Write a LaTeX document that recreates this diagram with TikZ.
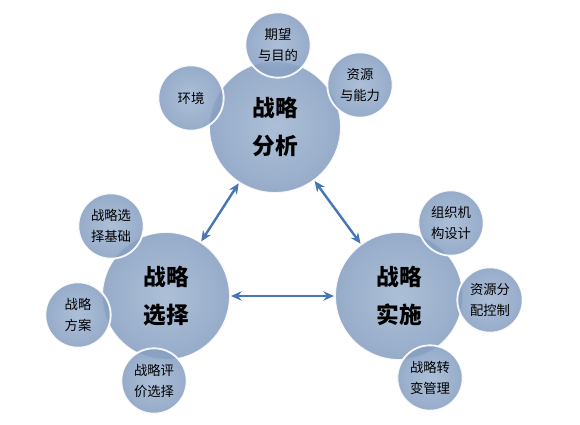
\documentclass[tikz,border=0pt]{standalone}
\usepackage{fontspec}
\setmainfont{Noto Sans CJK SC}
\usetikzlibrary{arrows.meta}
\definecolor{ballin}{RGB}{158,180,208}
\definecolor{ballout}{RGB}{132,157,192}
\definecolor{arrblue}{RGB}{70,118,182}

\begin{document}
\begin{tikzpicture}[
  x=0.75pt, y=-0.75pt,
  ball/.style={circle, inner sep=0pt, shading=radial, inner color=ballin, outer color=ballout,
    fill opacity=0.85, text opacity=1, draw=white, draw opacity=0.9, line width=1.4pt, align=center},
  bigball/.style={ball, minimum size=96pt, font=\fontsize{17}{29}\selectfont\bfseries},
  topball/.style={bigball, minimum size=99pt},
  satball/.style={ball, minimum size=49pt, font=\fontsize{10}{16}\selectfont},
  arr/.style={{Stealth[length=8pt,width=7pt]}-{Stealth[length=8pt,width=7pt]}, line width=1.8pt, arrblue}
]
\useasboundingbox (0,0) rectangle (580,424);
% main circles
\node[topball] (ana) at (275,127) {战略\\分析};
\node[bigball] (sel) at (166,296) {战略\\选择};
\node[bigball] (imp) at (399,296) {战略\\实施};
% satellites
\node[satball] (env) at (191,98) {环境};
\node[satball] (goal) at (278,45) {期望\\与目的};
\node[satball] (res) at (360,85) {资源\\与能力};
\node[satball] (base) at (111,226) {战略选\\择基础};
\node[satball] (plan) at (78,315) {战略\\方案};
\node[satball] (eval) at (154,381) {战略评\\价选择};
\node[satball] (org) at (451,223) {组织机\\构设计};
\node[satball] (alloc) at (490,300) {资源分\\配控制};
\node[satball] (chg) at (430,378) {战略转\\变管理};
% links
\draw[arr] (ana) -- (sel);
\draw[arr] (ana) -- (imp);
\draw[arr] (sel) -- (imp);
\end{tikzpicture}
\end{document}
